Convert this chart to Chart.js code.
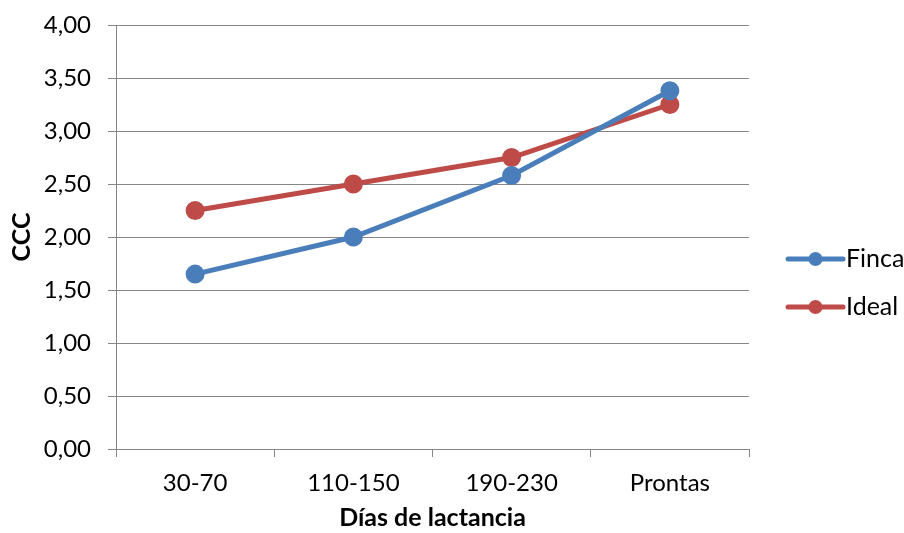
<!DOCTYPE html>
<html>
<head>
<meta charset="utf-8">
<script src="https://cdn.jsdelivr.net/npm/chart.js@4.4.1/dist/chart.umd.min.js"></script>
<style>
  html, body { margin: 0; padding: 0; background: #ffffff; }
  #wrap { width: 904px; height: 533px; position: relative; }
</style>
</head>
<body>
<div id="wrap"><canvas id="chart" width="904" height="533"></canvas></div>
<script>
// Lactation stages and body condition score (CCC) per series
const categories = ['30-70', '110-150', '190-230', 'Prontas'];
const fincaValues = [1.65, 2.00, 2.58, 3.38];
const idealValues = [2.25, 2.50, 2.75, 3.25];
const yMin = 0;
const yMax = 4;
const yStep = 0.5;
const seriesNames = ['Finca', 'Ideal'];
const seriesColors = ['#4A7EBB', '#BE4B48'];

const FONT = 'Lato, Carlito, Calibri, "Open Sans", sans-serif';
const GRID = '#868686';

// Legend drawn to the right of the plot: a short line with a marker, then the name
const sideLegend = {
  id: 'sideLegend',
  afterDraw(chart) {
    const ctx = chart.ctx;
    const area = chart.chartArea;
    const x0 = area.right + 39;
    const len = 55;
    const rowY = [259, 307];
    ctx.save();
    chart.data.datasets.forEach((ds, i) => {
      const y = rowY[i];
      ctx.strokeStyle = ds.borderColor;
      ctx.lineWidth = ds.borderWidth;
      ctx.lineCap = 'round';
      ctx.beginPath();
      ctx.moveTo(x0, y);
      ctx.lineTo(x0 + len, y);
      ctx.stroke();
      ctx.fillStyle = ds.pointBackgroundColor;
      ctx.beginPath();
      ctx.arc(x0 + len / 2, y, ds.pointRadius, 0, Math.PI * 2);
      ctx.fill();
      ctx.fillStyle = '#000000';
      ctx.font = '25px ' + FONT;
      ctx.textAlign = 'left';
      ctx.textBaseline = 'middle';
      ctx.fillText(ds.label, x0 + len + 3, y);
    });
    ctx.restore();
  }
};

function makeSeries(name, values, color) {
  return {
    label: name,
    data: values,
    borderColor: color,
    backgroundColor: color,
    pointBackgroundColor: color,
    pointBorderColor: color,
    borderWidth: 5,
    pointRadius: 7,
    pointHoverRadius: 7,
    tension: 0,
    fill: false
  };
}

new Chart(document.getElementById('chart'), {
  type: 'line',
  data: {
    labels: categories,
    datasets: [
      makeSeries(seriesNames[0], fincaValues, seriesColors[0]),
      makeSeries(seriesNames[1], idealValues, seriesColors[1])
    ]
  },
  plugins: [sideLegend],
  options: {
    responsive: false,
    animation: false,
    devicePixelRatio: 1,
    layout: { padding: { top: 25, right: 155, bottom: 0, left: 0 } },
    plugins: {
      legend: { display: false },
      tooltip: { enabled: false }
    },
    scales: {
      x: {
        type: 'category',
        offset: true,
        grid: {
          offset: true,
          drawOnChartArea: false,
          drawTicks: true,
          tickLength: 8,
          color: GRID,
          lineWidth: 1
        },
        border: { display: true, color: GRID, width: 1 },
        ticks: {
          color: '#000000',
          padding: 12,
          maxRotation: 0,
          font: { family: FONT, size: 24 }
        },
        title: {
          display: true,
          text: 'Días de lactancia',
          color: '#000000',
          padding: { top: 4, bottom: 0 },
          font: { family: FONT, size: 25, weight: 'bold' }
        },
        afterFit(scale) {
          scale.height = 84;
          scale.paddingLeft = 0;
          scale.paddingRight = 0;
        }
      },
      y: {
        min: yMin,
        max: yMax,
        grid: {
          drawOnChartArea: true,
          drawTicks: true,
          tickLength: 8,
          color: GRID,
          lineWidth: 1
        },
        border: { display: true, color: GRID, width: 1 },
        ticks: {
          stepSize: yStep,
          color: '#000000',
          padding: 17,
          font: { family: FONT, size: 24 },
          callback: (v) => Number(v).toFixed(2).replace('.', ',')
        },
        title: {
          display: true,
          text: 'CCC',
          color: '#000000',
          padding: { top: 7, bottom: 4 },
          font: { family: FONT, size: 25, weight: 'bold' }
        },
        afterFit(scale) {
          scale.width = 116;
          scale.paddingTop = 0;
          scale.paddingBottom = 0;
        }
      }
    }
  }
});
</script>
</body>
</html>
